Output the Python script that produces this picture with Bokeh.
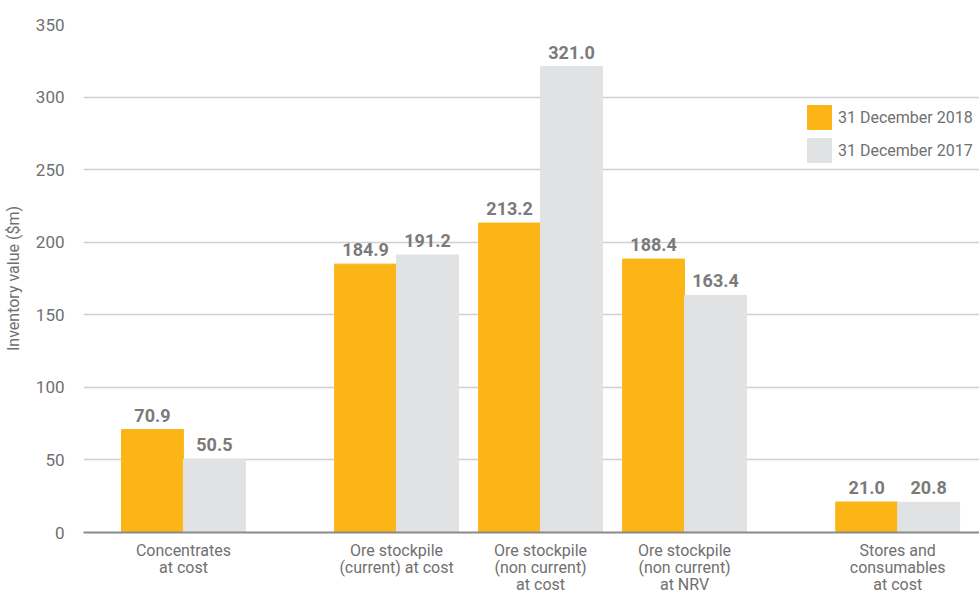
from bokeh.plotting import figure
from bokeh.models import ColumnDataSource, FixedTicker, Range1d, Legend, LegendItem
from bokeh.core.properties import value
from bokeh.embed import file_html
from bokeh.resources import INLINE

categories = ["Concentrates\nat cost", "Ore stockpile\n(current) at cost",
              "Ore stockpile\n(non current)\nat cost", "Ore stockpile\n(non current)\nat NRV",
              "Stores and\nconsumables\nat cost"]
groups = [0, 1, 1, 1, 2]
dec2018 = [70.9, 184.9, 213.2, 188.4, 21.0]
dec2017 = [50.5, 191.2, 321.0, 163.4, 20.8]
series_names = ["31 December 2018", "31 December 2017"]
y_ticks = [0, 50, 100, 150, 200, 250, 300, 350]

FONT = "Roboto"
GREY = "#707070"
GAP = 0.48
BW = 0.43
centers = [i + GAP * g for i, g in enumerate(groups)]

src = ColumnDataSource(dict(
    x18=[c - BW / 2 for c in centers],
    x17=[c + BW / 2 for c in centers],
    v18=dec2018, v17=dec2017,
    t18=[f"{v:.1f}" for v in dec2018],
    t17=[f"{v:.1f}" for v in dec2017],
))

p = figure(width=979, height=596, output_backend="svg", toolbar_location=None,
           x_range=Range1d(-0.694, -0.694 + 896 / 144), y_range=Range1d(0, 350),
           min_border_left=83, min_border_right=0, min_border_top=24, min_border_bottom=63)
p.outline_line_color = None
p.background_fill_color = "white"

r18 = p.vbar(x="x18", top="v18", width=BW, source=src, color="#FBB516")
r17 = p.vbar(x="x17", top="v17", width=BW, source=src, color="#E1E2E4")

for xc, tc, yc in (("x18", "t18", "v18"), ("x17", "t17", "v17")):
    p.text(x=xc, y=yc, text=tc, source=src, text_align="center", text_baseline="bottom",
           y_offset=-8, text_font=value(FONT), text_font_size="18px",
           text_font_style="bold", text_color="#7a7a7a")

p.xgrid.grid_line_color = None
p.ygrid.grid_line_color = "#d0d0d0"
p.ygrid.grid_line_width = 1.5
p.ygrid.ticker = FixedTicker(ticks=y_ticks)

p.yaxis.ticker = FixedTicker(ticks=y_ticks)
p.yaxis.axis_line_color = None
p.yaxis.major_tick_line_color = None
p.yaxis.minor_tick_line_color = None
p.yaxis.major_label_text_font = FONT
p.yaxis.major_label_text_font_size = "17px"
p.yaxis.major_label_text_color = GREY
p.yaxis.major_label_standoff = 13
p.yaxis.axis_label = "Inventory value ($m)"
p.yaxis.axis_label_text_font = FONT
p.yaxis.axis_label_text_font_size = "16px"
p.yaxis.axis_label_text_font_style = "normal"
p.yaxis.axis_label_text_color = GREY
p.yaxis.axis_label_standoff = 10

p.xaxis.ticker = FixedTicker(ticks=centers)
p.xaxis.major_label_overrides = {c: lab for c, lab in zip(centers, categories)}
p.xaxis.axis_line_color = "#8a8a8a"
p.xaxis.axis_line_width = 2
p.xaxis.major_tick_line_color = None
p.xaxis.minor_tick_line_color = None
p.xaxis.major_label_text_font = FONT
p.xaxis.major_label_text_font_size = "16px"
p.xaxis.major_label_text_color = GREY
p.xaxis.major_label_text_line_height = 0.9
p.xaxis.major_label_standoff = 2

legend = Legend(items=[LegendItem(label=series_names[0], renderers=[r18]),
                       LegendItem(label=series_names[1], renderers=[r17])],
                location=(721, 367), orientation="vertical")
legend.glyph_width = 30
legend.glyph_height = 30
legend.spacing = 3
legend.padding = 0
legend.margin = 0
legend.label_standoff = 4
legend.label_text_font = FONT
legend.label_text_font_size = "16px"
legend.label_text_color = GREY
legend.border_line_color = None
legend.background_fill_alpha = 0
p.add_layout(legend)

open("out.html", "w").write(file_html(p, INLINE))
